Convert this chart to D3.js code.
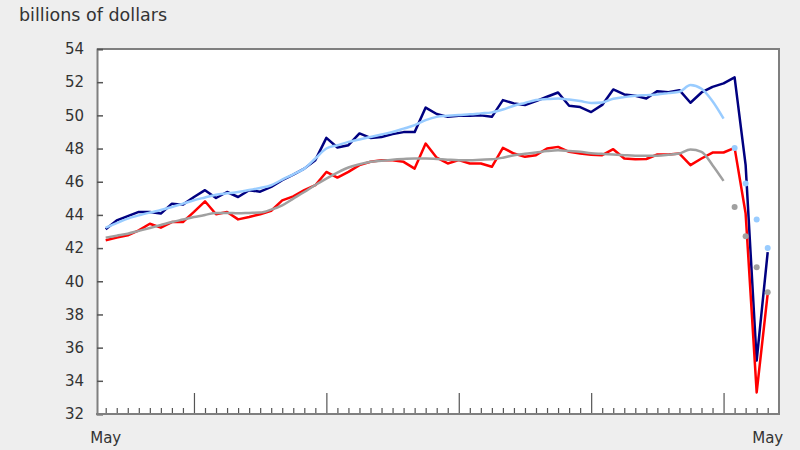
<!DOCTYPE html>
<html>
<head>
<meta charset="utf-8">
<script src="https://cdn.jsdelivr.net/npm/d3@7"></script>
<style>
  html, body { margin: 0; padding: 0; background: #eeeeee; }
  svg { display: block; }
  text { font-family: "DejaVu Sans", Verdana, sans-serif; }
</style>
</head>
<body>
<svg id="chart" width="800" height="450"></svg>
<script>
// Months: May 2015 (index 0) to May 2020 (index 60)
const monthLabels = ["May", "May"];
const monthLabelIdx = [0, 60];
const majorTickIdx = [8, 20, 32, 44, 56]; // January of each year
const yTicks = [32, 34, 36, 38, 40, 42, 44, 46, 48, 50, 52, 54];

// Current dollars (dark blue)
const salesValues = [
  43.13, 43.67, 43.93, 44.18, 44.18, 44.08, 44.68, 44.62, 45.08, 45.49,
  45.02, 45.38, 45.08, 45.49, 45.40, 45.69, 46.09, 46.43, 46.79, 47.30,
  48.64, 48.06, 48.20, 48.91, 48.64, 48.70, 48.87, 48.99, 48.99, 50.47,
  50.08, 49.91, 49.97, 49.97, 50.00, 49.91, 50.92, 50.72, 50.62, 50.86,
  51.12, 51.38, 50.58, 50.50, 50.20, 50.63, 51.56, 51.26, 51.18, 51.02,
  51.46, 51.40, 51.52, 50.76, 51.38, 51.72, 51.93, 52.29, 47.00, 35.22,
  41.76
];
// Constant dollars (red)
const volumeValues = [
  42.47, 42.63, 42.77, 43.07, 43.47, 43.23, 43.57, 43.57, 44.18, 44.82,
  44.04, 44.18, 43.73, 43.87, 44.04, 44.25, 44.88, 45.12, 45.49, 45.79,
  46.59, 46.25, 46.59, 47.00, 47.20, 47.30, 47.30, 47.20, 46.79, 48.30,
  47.45, 47.10, 47.30, 47.10, 47.10, 46.90, 48.04, 47.70, 47.50, 47.60,
  48.00, 48.10, 47.80, 47.70, 47.62, 47.60, 47.96, 47.40, 47.35, 47.37,
  47.64, 47.64, 47.70, 47.00, 47.40, 47.76, 47.76, 48.04, 44.08, 33.30,
  39.25
];
// Trend-cycle, current dollars (light blue), solid to Dec 2019
const salesTrend = [
  43.23, 43.50, 43.78, 43.97, 44.14, 44.30, 44.48, 44.68, 44.88, 45.05,
  45.22, 45.30, 45.38, 45.50, 45.62, 45.79, 46.13, 46.45, 46.79, 47.40,
  48.00, 48.20, 48.40, 48.55, 48.70, 48.85, 49.00, 49.20, 49.41, 49.71,
  49.91, 49.97, 50.02, 50.06, 50.12, 50.18, 50.35, 50.58, 50.75, 50.92,
  50.98, 51.02, 50.95, 50.86, 50.75, 50.78, 51.00, 51.10, 51.18, 51.22,
  51.26, 51.34, 51.42, 51.83, 51.60, 50.85, 49.80
];
// Trend-cycle, current dollars, last points shown as dots (Jan-May 2020)
const salesTrendDots = [48.04, 45.90, 43.73, 42.00];
// Trend-cycle, constant dollars (gray)
const volumeTrend = [
  42.63, 42.75, 42.87, 43.04, 43.21, 43.39, 43.57, 43.72, 43.87, 44.00,
  44.12, 44.12, 44.10, 44.12, 44.14, 44.32, 44.58, 44.98, 45.38, 45.80,
  46.19, 46.55, 46.86, 47.05, 47.20, 47.27, 47.33, 47.37, 47.40, 47.40,
  47.37, 47.33, 47.30, 47.30, 47.33, 47.35, 47.45, 47.60, 47.68, 47.76,
  47.85, 47.90, 47.85, 47.80, 47.72, 47.68, 47.64, 47.60, 47.57, 47.57,
  47.57, 47.62, 47.70, 47.94, 47.80, 47.00, 46.05
];
const volumeTrendDots = [44.48, 42.71, 40.84, 39.34];
const dotStartIdx = 57;

const svg = d3.select("#chart");
const plot = { left: 97, right: 779, top: 49, bottom: 414 };

const x = d3.scaleLinear().domain([0, 60]).range([105.7, 767.7]);
const y = d3.scaleLinear().domain([32, 54]).range([plot.bottom, plot.top]);

// Plot background
svg.append("rect")
  .attr("x", plot.left).attr("y", plot.top)
  .attr("width", plot.right - plot.left).attr("height", plot.bottom - plot.top)
  .attr("fill", "#ffffff");

// Frame (top and right)
svg.append("path")
  .attr("d", `M${plot.left},${plot.top}H${plot.right}V${plot.bottom}`)
  .attr("fill", "none").attr("stroke", "#7f7f7f").attr("stroke-width", 2);

// Y axis
const yAxis = d3.axisLeft(y).tickValues(yTicks).tickSize(-6).tickPadding(13).tickFormat(d3.format("d"));
const gy = svg.append("g").attr("transform", `translate(${plot.left},0)`).call(yAxis);
gy.select(".domain").attr("stroke", "#7f7f7f").attr("stroke-width", 2);
gy.selectAll(".tick line").attr("stroke", "#555").attr("stroke-width", 1.5);
gy.selectAll(".tick text").attr("font-size", 15).attr("fill", "#333").attr("font-family", "DejaVu Sans, Verdana, sans-serif");

// X axis: minor ticks every month, major each January
const allMonths = d3.range(0, 61);
const gxMinor = svg.append("g").attr("transform", `translate(0,${plot.bottom})`)
  .call(d3.axisBottom(x).tickValues(allMonths.filter(i => !majorTickIdx.includes(i))).tickSize(-6).tickFormat(""));
gxMinor.select(".domain").remove();
gxMinor.selectAll(".tick line").attr("stroke", "#555").attr("stroke-width", 1.2);

const gxMajor = svg.append("g").attr("transform", `translate(0,${plot.bottom})`)
  .call(d3.axisBottom(x).tickValues(majorTickIdx).tickSize(-21).tickFormat(""));
gxMajor.select(".domain").remove();
gxMajor.selectAll(".tick line").attr("stroke", "#555").attr("stroke-width", 1.2);

svg.append("line")
  .attr("x1", plot.left - 1).attr("x2", plot.right + 1)
  .attr("y1", plot.bottom).attr("y2", plot.bottom)
  .attr("stroke", "#7f7f7f").attr("stroke-width", 2);

// Month labels
svg.selectAll("text.month").data(monthLabelIdx).enter().append("text")
  .attr("class", "month")
  .attr("x", d => x(d)).attr("y", 443)
  .attr("text-anchor", "middle").attr("font-size", 15).attr("fill", "#333")
  .text((d, i) => monthLabels[i]);

// Unit label
svg.append("text").attr("x", 19).attr("y", 21)
  .attr("font-size", 17.5).attr("fill", "#333")
  .text("billions of dollars");

// Lines
const line = d3.line().x((d, i) => x(i)).y(d => y(d));
const smooth = d3.line().x((d, i) => x(i)).y(d => y(d)).curve(d3.curveMonotoneX);

svg.append("path").datum(salesValues).attr("d", line)
  .attr("fill", "none").attr("stroke", "#000080").attr("stroke-width", 2.5).attr("stroke-linejoin", "round");
svg.append("path").datum(volumeValues).attr("d", line)
  .attr("fill", "none").attr("stroke", "#ff0000").attr("stroke-width", 2.5).attr("stroke-linejoin", "round");
svg.append("path").datum(salesTrend).attr("d", smooth)
  .attr("fill", "none").attr("stroke", "#99ccff").attr("stroke-width", 2.5);
svg.append("path").datum(volumeTrend).attr("d", smooth)
  .attr("fill", "none").attr("stroke", "#a0a0a0").attr("stroke-width", 2.5);

// Dots for the last trend-cycle points
svg.selectAll("circle.sd").data(salesTrendDots).enter().append("circle")
  .attr("class", "sd")
  .attr("cx", (d, i) => x(dotStartIdx + i)).attr("cy", d => y(d)).attr("r", 3)
  .attr("fill", "#99ccff");
svg.selectAll("circle.vd").data(volumeTrendDots).enter().append("circle")
  .attr("class", "vd")
  .attr("cx", (d, i) => x(dotStartIdx + i)).attr("cy", d => y(d)).attr("r", 3)
  .attr("fill", "#a0a0a0");
</script>
</body>
</html>
